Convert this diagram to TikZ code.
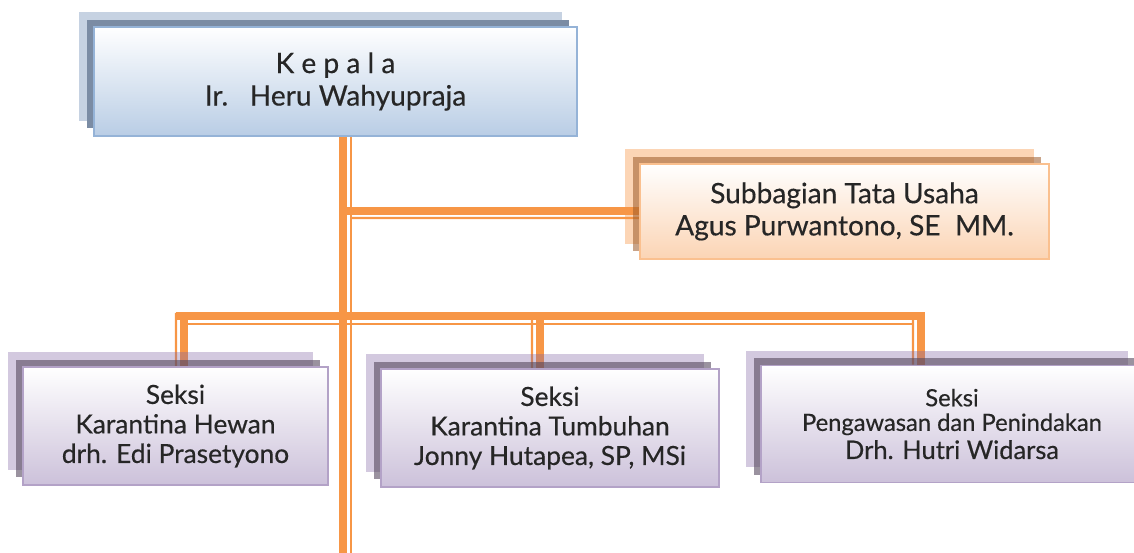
\documentclass[tikz,border=0pt]{standalone}
\usepackage{fontspec}
\setmainfont{Lato}[FakeBold=0.4]
\usetikzlibrary{shadows,backgrounds}
\definecolor{jingga}{HTML}{F79646}
\definecolor{birutepi}{HTML}{95B3D7}
\definecolor{birudasar}{HTML}{B9CDE5}
\definecolor{jinggatepi}{HTML}{FAC08F}
\definecolor{jinggadasar}{HTML}{FBD4B4}
\definecolor{ungutepi}{HTML}{B3A2C7}
\definecolor{ungudasar}{HTML}{CCC1DA}
\definecolor{teks}{HTML}{262626}

\begin{document}
\begin{tikzpicture}[x=0.02cm,y=-0.02cm,
		kotak/.style={inner sep=0pt,align=center,text=teks,line width=1.1pt,top color=white},
		kotakbiru/.style={kotak,draw=birutepi,bottom color=birudasar,
			copy shadow={shadow xshift=-0.3cm,shadow yshift=0.3cm,fill={rgb,255:red,198;green,210;blue,226},draw=none},
			copy shadow={shadow xshift=-0.15cm,shadow yshift=0.15cm,fill={rgb,255:red,123;green,140;blue,164},draw=none}},
		kotakjingga/.style={kotak,draw=jinggatepi,bottom color=jinggadasar,
			copy shadow={shadow xshift=-0.3cm,shadow yshift=0.3cm,fill=jingga,fill opacity=0.4,draw=none},
			copy shadow={shadow xshift=-0.15cm,shadow yshift=0.15cm,fill={rgb,255:red,156;green,90;blue,40},fill opacity=0.55,draw=none}},
		kotakungu/.style={kotak,draw=ungutepi,bottom color=ungudasar,
			copy shadow={shadow xshift=-0.3cm,shadow yshift=0.3cm,fill={rgb,255:red,128;green,100;blue,162},fill opacity=0.35,draw=none},
			copy shadow={shadow xshift=-0.15cm,shadow yshift=0.15cm,fill={rgb,255:red,86;green,73;blue,95},fill opacity=0.6,draw=none}},
		garistebal/.style={jingga,line width=4.5pt},
		garistipis/.style={jingga,line width=1.4pt}]
	\useasboundingbox (0,0) rectangle (1134,553);
	\clip (0,0) rectangle (1134,553);
	% kotak-kotak
	\node[kotakbiru,minimum width=9.66cm,minimum height=2.18cm,font=\fontsize{16}{18.5}\selectfont] (kepala) at (335.5,81.5)
		{K e p a l a\\Ir.\ \ \ Heru Wahyupraja};
	\node[kotakjingga,minimum width=8.18cm,minimum height=1.9cm,font=\fontsize{16}{18.3}\selectfont] (subbag) at (844.5,211.5)
		{Subbagian Tata Usaha\\Agus Purwantono, SE\ \ MM.};
	\node[kotakungu,minimum width=6.1cm,minimum height=2.36cm,font=\fontsize{15}{16.8}\selectfont] (hewan) at (175.5,426)
		{Seksi\\Karantina Hewan\\drh. Edi Prasetyono};
	\node[kotakungu,minimum width=6.76cm,minimum height=2.36cm,font=\fontsize{15}{16.8}\selectfont] (tumbuhan) at (550,428)
		{Seksi\\Karantina Tumbuhan\\Jonny Hutapea, SP, MSi};
	\node[kotakungu,minimum width=7.64cm,minimum height=2.34cm,font=\fontsize{13.5}{14}\selectfont] (awas) at (952,424)
		{Seksi\\Pengawasan dan Penindakan\\[2pt]{\fontsize{14.5}{16}\selectfont Drh. Hutri Widarsa}};
	% garis penghubung
	\coordinate (ujung) at (343,553);
	\coordinate (cabang) at (343,211);
	\coordinate (bus1) at (184,316);
	\coordinate (bus2) at (540,316);
	\coordinate (bus3) at (921,316);
	\begin{scope}[on background layer]
		\draw[garistebal] (kepala.south -| ujung)--(ujung);
		\draw[garistipis] ([xshift=0.16cm]kepala.south -| ujung)--([xshift=0.16cm]ujung);
		\draw[garistebal] (cabang)--(subbag.west |- cabang);
		\draw[garistipis] ([shift={(8,7)}]cabang)--([yshift=-0.14cm]subbag.west |- cabang);
		\draw[garistebal] ([xshift=-0.16cm]bus1)--([xshift=0.08cm]bus3);
		\draw[garistebal] (bus1)--(hewan.north -| bus1);
		\draw[garistebal] (bus2)--(tumbuhan.north -| bus2);
		\draw[garistebal] (bus3)--(awas.north -| bus3);
		\draw[garistipis] ([shift={(-3,8)}]bus1)--([shift={(-7,8)}]bus3);
		\draw[garistipis] ([shift={(-8,-3)}]bus1)--([xshift=-0.16cm]hewan.north -| bus1);
		\draw[garistipis] ([shift={(-8,0)}]bus2)--([xshift=-0.16cm]tumbuhan.north -| bus2);
		\draw[garistipis] ([shift={(-8,0)}]bus3)--([xshift=-0.16cm]awas.north -| bus3);
	\end{scope}
\end{tikzpicture}
\end{document}
